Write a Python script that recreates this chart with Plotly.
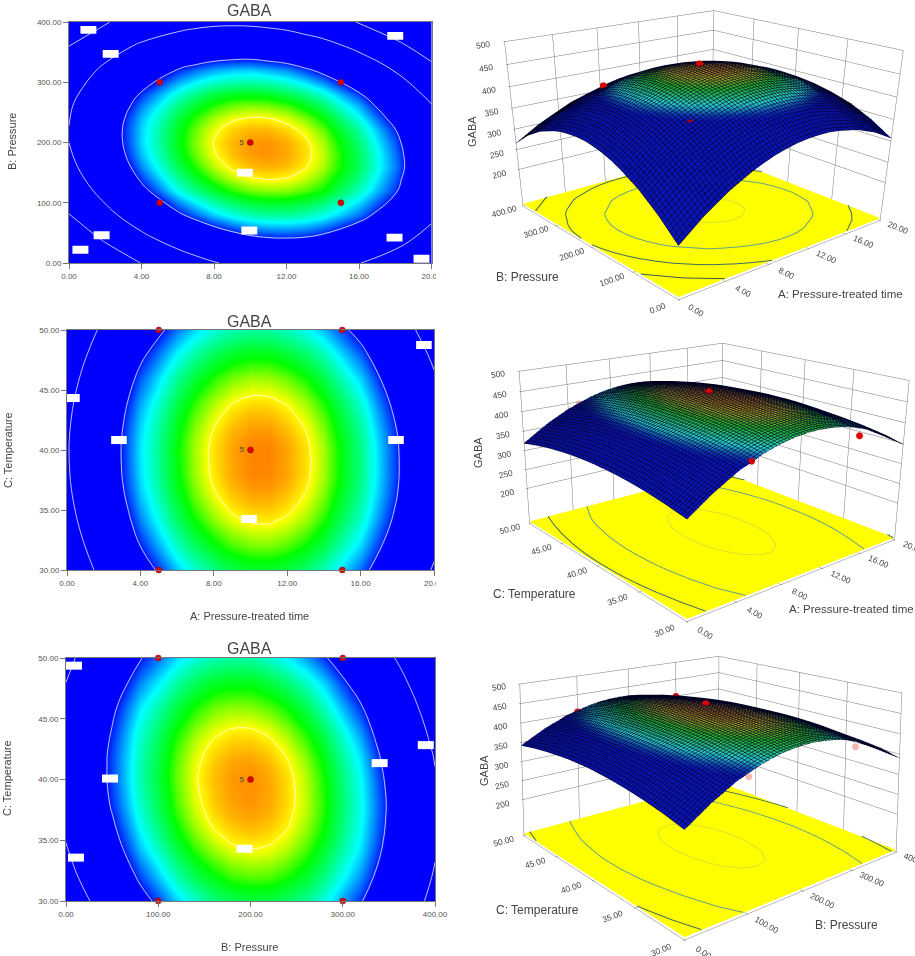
import math
import plotly.graph_objects as go

# factor levels
time_levels = [0, 2, 4, 6, 7, 8, 9, 10, 11, 12, 13, 14, 16, 18, 20]
pressure_levels = [0, 40, 80, 120, 140, 160, 180, 200, 220, 240, 260, 280, 320, 360, 400]
temperature_levels = [30, 32, 34, 35, 36, 37, 38, 40, 41, 42, 43, 44, 46, 48, 50]

# GABA, rows follow the y factor, columns the x factor
gaba_time_pressure = [
    [223, 266, 301, 328, 338.7, 348, 354.7, 360, 363, 364, 363.8, 361, 351, 333, 307],
    [265, 306, 340, 366, 376.6, 385, 391.4, 396, 398.5, 399, 398.1, 395, 383, 363, 336],
    [299, 339, 372, 397, 406.1, 414, 419.7, 424, 425.6, 426, 424, 420, 407, 387, 358],
    [324, 363, 395, 419, 427.2, 434.5, 439.6, 443, 444.3, 444, 441.5, 438, 423, 402, 372],
    [333.6, 372, 402.8, 425.9, 434.6, 441.5, 446.4, 449.4, 450.5, 449.8, 447.1, 442.6, 427.7, 405.3, 375.2],
    [341, 379, 409, 431.6, 439.9, 446.6, 451.1, 453.9, 454.6, 453.7, 450.6, 445.9, 431, 408, 377],
    [346.3, 383.5, 413.1, 435, 443.1, 449.4, 453.7, 456.1, 456.6, 455.3, 452, 446.9, 430.8, 407.2, 375.9],
    [350, 386, 415, 436.5, 444.3, 450.3, 454.3, 456.4, 456.6, 455, 451.4, 446, 429, 405, 373],
    [350.6, 386.6, 415, 435.7, 443.3, 448.9, 452.7, 454.4, 454.4, 452.4, 448.6, 442.8, 425.5, 400.7, 368.2],
    [349, 385, 413, 433, 440.2, 445.6, 449, 450.5, 450.1, 447.9, 443.7, 437.7, 419, 394, 361],
    [346.5, 381.3, 408.5, 428, 435, 440, 443.2, 444.3, 443.7, 441.1, 436.7, 430.3, 411.8, 385.8, 352.1],
    [341, 376, 402, 421, 427.7, 433, 435.3, 436, 435.2, 432, 427.6, 421, 402, 375, 341],
    [325, 358, 383, 401, 406.8, 411, 413.2, 414, 411.9, 409, 403.1, 396, 376, 348, 313],
    [300, 332, 356, 372, 377.5, 381, 382.7, 383, 380.2, 377, 370.2, 363, 341, 312, 276],
    [266, 297, 320, 335, 339.9, 343, 343.9, 343, 340.2, 336, 329, 321, 298, 268, 230],
]
gaba_time_temperature = [
    [321.6, 360.2, 390.7, 413.3, 421.5, 427.8, 432.1, 434.4, 434.6, 432.9, 429.2, 423.5, 406, 380.6, 347.1],
    [331.2, 369.7, 400.1, 422.5, 430.7, 437, 441.2, 443.4, 443.6, 441.8, 438, 432.3, 414.7, 389.1, 355.6],
    [338.8, 377, 407.4, 429.7, 437.9, 444, 448.2, 450.3, 450.5, 448.6, 444.8, 438.9, 421.3, 395.6, 361.9],
    [341.6, 379.8, 410, 432.3, 440.5, 446.6, 450.7, 452.8, 453, 451, 447.2, 441.3, 423.6, 397.8, 364.1],
    [344, 382.2, 412.4, 434.6, 442.7, 448.8, 452.9, 455, 455, 453.1, 449.2, 443.3, 425.5, 399.7, 365.9],
    [345.8, 383.9, 414.1, 436.2, 444.3, 450.3, 454.4, 456.5, 456.5, 454.6, 450.7, 444.7, 426.9, 401, 367.1],
    [347, 385.1, 415.2, 437.2, 445.3, 451.3, 455.3, 457.4, 457.4, 455.5, 451.5, 445.5, 427.6, 401.7, 367.7],
    [347.9, 385.8, 415.8, 437.7, 445.7, 451.7, 455.6, 457.6, 457.6, 455.6, 451.5, 445.5, 427.5, 401.4, 367.4],
    [347.5, 385.4, 415.3, 437.1, 445.1, 451, 455, 456.9, 456.9, 454.8, 450.8, 444.7, 426.6, 400.5, 366.4],
    [346.5, 384.3, 414.1, 436, 443.9, 449.8, 453.7, 455.6, 455.6, 453.4, 449.4, 443.3, 425.1, 399, 364.8],
    [345, 382.8, 412.5, 434.3, 442.2, 448, 452, 453.9, 453.7, 451.6, 447.5, 441.4, 423.2, 396.9, 362.7],
    [343, 380.7, 410.4, 432.1, 440, 445.9, 449.7, 451.6, 451.4, 449.3, 445.1, 439, 420.7, 394.4, 360.1],
    [337.2, 374.8, 404.4, 426, 433.8, 439.6, 443.4, 445.2, 445, 442.8, 438.6, 432.4, 414, 387.6, 353.2],
    [329.3, 366.7, 396.2, 417.7, 425.4, 431.2, 434.9, 436.6, 436.4, 434, 429.8, 423.6, 405, 378.5, 344],
    [319.1, 356.5, 385.8, 407.2, 414.8, 420.5, 424.2, 425.9, 425.5, 423.2, 418.9, 412.6, 393.9, 367.3, 332.6],
]
gaba_pressure_temperature = [
    [326, 363, 393, 414, 421.8, 428, 431.3, 433, 432.7, 430, 426.1, 420, 401, 375, 340],
    [338, 375, 403, 424, 431.8, 437, 440.8, 442, 441.7, 439, 434.7, 428, 409, 382, 347],
    [347, 383, 412, 432, 439.5, 444.8, 448, 449.2, 448.4, 445.7, 440.9, 434, 415, 387, 352],
    [350.8, 387, 415.2, 435.5, 442.5, 447.7, 450.8, 451.9, 451, 448.2, 443.2, 436.4, 416.6, 388.9, 353.1],
    [354, 390, 418, 438.1, 445.1, 450.1, 453, 454.1, 453, 450.1, 445, 438.1, 418, 390, 354],
    [356.8, 392.6, 420.3, 440.1, 446.9, 451.8, 454.7, 455.6, 454.4, 451.3, 446.2, 439.1, 418.8, 390.6, 354.3],
    [359, 395, 422, 441.5, 448.2, 453, 455.7, 456.5, 455.3, 452, 446.8, 439.6, 419, 391, 354],
    [362, 397, 424, 442.8, 449.3, 453.9, 456.3, 456.9, 455.4, 451.9, 446.4, 438.9, 418, 389, 352],
    [362.2, 397, 423.8, 442.6, 448.9, 453.4, 455.7, 456.2, 454.5, 450.9, 445.3, 437.7, 416.5, 387.3, 350.1],
    [362, 397, 423, 441.8, 448.1, 452.4, 454.6, 454.9, 453.2, 449.5, 443.7, 436, 415, 385, 348],
    [361.5, 395.8, 422.2, 440.5, 446.6, 450.8, 452.9, 453.1, 451.2, 447.4, 441.5, 433.7, 412, 382.3, 344.6],
    [360, 394, 421, 438.5, 444.5, 448.6, 450.6, 450.7, 448.7, 444.8, 438.8, 431, 409, 379, 341],
    [356, 390, 416, 433, 438.8, 443, 444.4, 444, 442, 438, 431.6, 423, 401, 371, 332],
    [350, 383, 408, 425, 430.9, 435, 436, 436, 433.1, 429, 422.2, 414, 391, 360, 321],
    [342, 374, 399, 415, 420.7, 424, 425.3, 425, 421.9, 417, 410.6, 402, 379, 347, 308],
]

# design points of the experiment
point_time = [5, 5, 15, 15, 10]
point_pressure = [100, 300, 100, 300, 200]
point_pressure_2 = [100, 100, 300, 300, 200]
point_temperature = [30, 50, 30, 50, 40]
point_gaba_tp = [395, 408, 412, 375, 462]
point_gaba_tt = [404, 395, 398, 392, 462]
point_gaba_pt = [396, 404, 398, 400, 462]

contour_levels = [300, 350, 400, 450]
floor_level = 110
floor_line_colors = {300: "#3f5a55", 350: "#3f6a62", 400: "#62a08a", 450: "#d8e030"}

# label boxes on the contour lines (centres, in axis units)
boxes_tp = [(1.07, 387), (2.3, 347), (18, 377), (9.7, 150), (9.95, 54), (1.8, 46), (0.63, 22), (17.96, 42), (19.45, 7)]
boxes_tt = [(2.83, 40.83), (17.93, 40.83), (9.92, 34.25), (0.27, 44.33), (19.45, 48.75)]
boxes_pt = [(8.7, 49.37), (47.7, 40.08), (193.5, 34.3), (340, 41.35), (390, 42.83), (10.8, 33.57)]

W, H = 915, 956
heat_scale = [[0, "#0000ff"], [0.29, "#00ffff"], [0.59, "#00ff00"], [0.76, "#ffff00"], [1, "#ff0000"]]
surf_scale = [[0, "#0a14b4"], [0.1, "#0c38b8"], [0.29, "#28c8c8"], [0.59, "#22ac28"], [0.76, "#a09a20"], [1, "#b03810"]]
yellow_scale = [[0, "#ffff00"], [1, "#ffff00"]]

# camera: the box is seen from one eye height, each scene aims past it so it lands in its slot
view_dist = 3.0
view_elev = math.radians(17.5)
view_dir = (-0.645, -0.764)
view_scale = 267  # px per scene unit


def camera_for(shift_up, shift_right):
    focal = view_scale * view_dist
    delta = math.atan(shift_up / focal)
    r = view_dist / math.cos(delta)
    eye = (r * math.cos(view_elev) * view_dir[0], r * math.cos(view_elev) * view_dir[1], r * math.sin(view_elev))
    tilt = view_elev + delta
    look = (-math.cos(tilt) * view_dir[0], -math.cos(tilt) * view_dir[1], -math.sin(tilt))
    a = shift_right / view_scale
    center = (eye[0] + view_dist * look[0] + a * view_dir[1], eye[1] + view_dist * look[1] - a * view_dir[0], eye[2] + view_dist * look[2])
    return dict(eye=dict(x=eye[0], y=eye[1], z=eye[2]), center=dict(x=center[0], y=center[1], z=center[2]),
                up=dict(x=0, y=0, z=1))


def contour_segments(xs, ys, z, level):
    # plain marching squares over the table, used for the lines on the yellow floor
    px, py = [], []
    for j in range(len(ys) - 1):
        for i in range(len(xs) - 1):
            corners = [(i, j), (i + 1, j), (i + 1, j + 1), (i, j + 1)]
            hits = []
            for k in range(4):
                i0, j0 = corners[k]
                i1, j1 = corners[(k + 1) % 4]
                v0, v1 = z[j0][i0], z[j1][i1]
                if (v0 < level) != (v1 < level):
                    t = (level - v0) / (v1 - v0)
                    hits.append((xs[i0] + t * (xs[i1] - xs[i0]), ys[j0] + t * (ys[j1] - ys[j0])))
            for a in range(0, len(hits) - 1, 2):
                px += [hits[a][0], hits[a + 1][0], None]
                py += [hits[a][1], hits[a + 1][1], None]
    return px, py


view_h = view_scale * view_dist * 2 * math.tan(math.radians(22.5))
panels = [
    dict(xs=time_levels, ys=pressure_levels, z=gaba_time_pressure, px=point_time, py=point_pressure,
         pz=point_gaba_tp, boxes=boxes_tp, box=(0.88, 13), left=69, right=431.5, top=22, bottom=263,
         xticks=[0, 4, 8, 12, 16, 20], yticks=[0, 100, 200, 300, 400], zaspect=0.635,
         slot=(0, view_h), box_at=(697, 134), colors=["#e00000"] * 5),
    dict(xs=time_levels, ys=temperature_levels, z=gaba_time_temperature, px=point_time, py=point_temperature,
         pz=point_gaba_tt, boxes=boxes_tt, box=(0.85, 0.67), left=67, right=434, top=330, bottom=570,
         xticks=[0, 4, 8, 12, 16, 20], yticks=[30, 35, 40, 45, 50], zaspect=0.61,
         slot=(478 - view_h / 2, 478 + view_h / 2), box_at=(708, 456),
         colors=["#e00000", "#f4b8b0", "#e00000", "#f4b8b0", "#e00000"]),
    dict(xs=pressure_levels, ys=temperature_levels, z=gaba_pressure_temperature, px=point_pressure_2, py=point_temperature,
         pz=point_gaba_pt, boxes=boxes_pt, box=(17.3, 0.66), left=66, right=435, top=658, bottom=901,
         xticks=[0, 100, 200, 300, 400], yticks=[30, 35, 40, 45, 50], zaspect=0.60,
         slot=(H - view_h, H), box_at=(706, 767), colors=["#f4b8b0", "#e00000", "#f4b8b0", "#e00000", "#e00000"]),
]

fig = go.Figure()
layout = dict(width=W, height=H, margin=dict(l=0, r=0, t=0, b=0, autoexpand=False), paper_bgcolor="white",
              plot_bgcolor="white", showlegend=False, font=dict(family="Liberation Sans", color="#444444"))
shapes = []

for n, p in enumerate(panels, start=1):
    xname, yname = ("x", "y") if n == 1 else (f"x{n}", f"y{n}")
    sname = "scene" if n == 1 else f"scene{n}"

    # flat map on the left
    fig.add_trace(go.Heatmap(x=p["xs"], y=p["ys"], z=p["z"], zsmooth="best", zmin=398, zmax=466,
                             colorscale=heat_scale, showscale=False, xaxis=xname, yaxis=yname))
    fig.add_trace(go.Contour(x=p["xs"], y=p["ys"], z=p["z"], showscale=False, xaxis=xname, yaxis=yname,
                             autocontour=False, contours=dict(coloring="none", start=300, end=450, size=50),
                             line=dict(color="rgba(255,255,255,0.75)", width=1, smoothing=1.3)))
    fig.add_trace(go.Scatter(x=p["px"], y=p["py"], mode="markers", xaxis=xname, yaxis=yname, cliponaxis=False,
                             marker=dict(color="#e00000", size=6, line=dict(color="#7a1010", width=0.5))))
    fig.add_trace(go.Scatter(x=[p["px"][4]], y=[p["py"][4]], mode="text", text=["5   "], textposition="middle left",
                             textfont=dict(size=8, color="#444444"), xaxis=xname, yaxis=yname))
    for cx, cy in p["boxes"]:
        shapes.append(dict(type="rect", xref=xname, yref=yname, x0=cx - p["box"][0] / 2, x1=cx + p["box"][0] / 2,
                           y0=cy - p["box"][1] / 2, y1=cy + p["box"][1] / 2, fillcolor="white", line_width=0))

    layout["xaxis" if n == 1 else f"xaxis{n}"] = dict(
        domain=[p["left"] / W, p["right"] / W], range=[p["xs"][0], p["xs"][-1]], anchor=yname,
        tickvals=p["xticks"], tickformat=".2f", ticks="outside", ticklen=5, tickcolor="#777777",
        tickfont=dict(size=8, color="#555555"), showline=True, linecolor="#777777", mirror=True,
        showgrid=False, zeroline=False)
    layout["yaxis" if n == 1 else f"yaxis{n}"] = dict(
        domain=[1 - p["bottom"] / H, 1 - p["top"] / H], range=[p["ys"][0], p["ys"][-1]], anchor=xname,
        tickvals=p["yticks"], tickformat=".2f", ticks="outside", ticklen=5, tickcolor="#777777",
        tickfont=dict(size=8, color="#555555"), showline=True, linecolor="#777777", mirror=True,
        showgrid=False, zeroline=False)

    # response surface on the right
    dx = (p["xs"][-1] - p["xs"][0]) / 70
    dy = (p["ys"][-1] - p["ys"][0]) / 70
    fig.add_trace(go.Surface(x=p["xs"], y=p["ys"], z=p["z"], cmin=398, cmax=466, colorscale=surf_scale,
                             showscale=False, scene=sname,
                             lighting=dict(ambient=1, diffuse=0, specular=0, roughness=1, fresnel=0),
                             contours=dict(
                                 x=dict(show=True, start=p["xs"][0], end=p["xs"][-1], size=dx, color="#000020", width=1),
                                 y=dict(show=True, start=p["ys"][0], end=p["ys"][-1], size=dy, color="#000020", width=1))))
    fig.add_trace(go.Surface(x=[p["xs"][0], p["xs"][-1]], y=[p["ys"][0], p["ys"][-1]],
                             z=[[floor_level, floor_level], [floor_level, floor_level]],
                             colorscale=yellow_scale, showscale=False, scene=sname,
                             lighting=dict(ambient=1, diffuse=0, specular=0)))
    for level in contour_levels:
        lx, ly = contour_segments(p["xs"], p["ys"], p["z"], level)
        fig.add_trace(go.Scatter3d(x=lx, y=ly, z=[None if v is None else floor_level + 1 for v in lx], mode="lines",
                                   line=dict(color=floor_line_colors[level], width=2), scene=sname))
    fig.add_trace(go.Scatter3d(x=p["px"], y=p["py"], z=p["pz"], mode="markers", scene=sname,
                               marker=dict(color=p["colors"], size=4)))

    axis3d = dict(title=dict(text=""), showbackground=False, showgrid=True, gridcolor="#777777", gridwidth=1,
                  showline=True, linecolor="#777777", linewidth=1, mirror=True, zeroline=False, showspikes=False,
                  tickfont=dict(size=10, color="#444444", family="Liberation Sans"), ticks="outside", ticklen=1)
    top, bottom = p["slot"]
    layout[sname] = dict(
        domain=dict(x=[455 / W, 1], y=[1 - bottom / H, 1 - top / H]),
        aspectmode="manual", aspectratio=dict(x=1, y=1, z=p["zaspect"]),
        camera=camera_for((top + bottom) / 2 - p["box_at"][1], p["box_at"][0] - 685),
        xaxis=dict(axis3d, range=[p["xs"][0], p["xs"][-1]], tickvals=p["xticks"], tickformat=".2f"),
        yaxis=dict(axis3d, range=[p["ys"][0], p["ys"][-1]], tickvals=p["yticks"], tickformat=".2f"),
        zaxis=dict(axis3d, range=[104, 500], tickvals=[200, 250, 300, 350, 400, 450, 500], tickformat="d"),
    )

# the source image cuts the last tick label of the upper two maps
for y0, y1 in [(270, 284), (578, 592)]:
    shapes.append(dict(type="rect", xref="paper", yref="paper", x0=436 / W, x1=452 / W, y0=1 - y1 / H, y1=1 - y0 / H,
                       fillcolor="white", line_width=0))


def label(x, y, text, size=11, angle=0):
    return dict(xref="paper", yref="paper", x=x / W, y=1 - y / H, text=text, showarrow=False, textangle=angle,
                font=dict(size=size, color="#444444"), xanchor="center", yanchor="middle")


layout["annotations"] = [
    label(249, 11, "GABA", 16), label(249, 321, "GABA", 16), label(249, 648, "GABA", 16),
    label(12, 142, "B: Pressure", 11, -90), label(8, 450, "C: Temperature", 11, -90),
    label(7, 778, "C: Temperature", 11, -90),
    label(249, 616, "A: Pressure-treated time", 11), label(249, 947, "B: Pressure", 11),
    label(472, 131, "GABA", 11, -90), label(527, 277, "B: Pressure", 12),
    label(840, 294, "A: Pressure-treated time", 11.5),
    label(478, 453, "GABA", 11, -90), label(534, 594, "C: Temperature", 12),
    label(851, 609, "A: Pressure-treated time", 11.5),
    label(484, 771, "GABA", 11, -90), label(537, 910, "C: Temperature", 12),
    label(846, 925, "B: Pressure", 12),
]
layout["shapes"] = shapes
fig.update_layout(**layout)
fig.write_html("out.html", config={"displayModeBar": False},
               post_script="document.body.style.margin='0';document.body.style.filter='blur(0.45px)';")
